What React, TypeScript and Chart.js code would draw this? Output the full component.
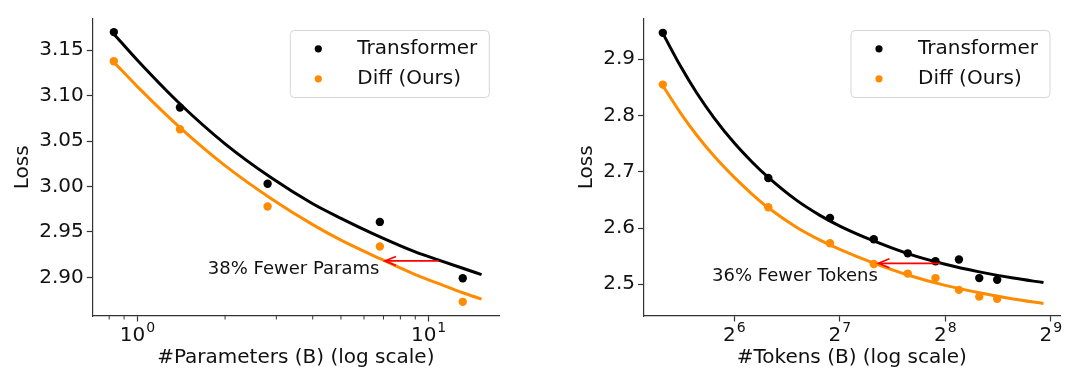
import React, { useEffect, useRef } from "react";
import { Chart, registerables } from "chart.js";

Chart.register(...registerables);

// ---------------- Left panel: model size ----------------
const paramSizes = [0.83, 1.4, 2.8, 6.8, 13.1];
const paramTransformerLoss = [3.17, 3.087, 3.003, 2.961, 2.899];
const paramDiffLoss = [3.138, 3.063, 2.978, 2.934, 2.873];
const paramFitSizes = [0.83, 1.0, 1.41, 2.0, 2.9, 4.0, 5.0, 6.87, 9.0, 10.84, 13.1, 15.2];
const paramFitTransformer = [3.168, 3.139, 3.09, 3.047, 3.009, 2.981, 2.965, 2.944, 2.928, 2.919, 2.91, 2.903];
const paramFitDiff = [3.137, 3.11, 3.064, 3.023, 2.986, 2.958, 2.941, 2.92, 2.903, 2.893, 2.883, 2.876];
const paramMajorTicks = [1, 10];
const paramTickBase = ["10", "10"];
const paramTickExp = ["0", "1"];
const paramMinorTicks = [0.8, 0.9, 2, 3, 4, 5, 6, 7, 8, 9];
const paramLossTicks = [2.9, 2.95, 3.0, 3.05, 3.1, 3.15];

// ---------------- Right panel: training tokens ----------------
const tokenSizes = [40, 80, 120, 160, 200, 240, 280, 320, 360];
const tokenTransformerLoss = [2.947, 2.689, 2.618, 2.58, 2.555, 2.541, 2.544, 2.511, 2.508];
const tokenDiffLoss = [2.855, 2.637, 2.573, 2.536, 2.519, 2.511, 2.49, 2.478, 2.474];
const tokenFitSizes = [40, 45, 50, 56, 64, 72, 80, 96, 112, 128, 160, 200, 256, 320, 400, 488];
const tokenFitTransformer = [2.946, 2.887, 2.84, 2.796, 2.751, 2.717, 2.69, 2.65, 2.623, 2.6035, 2.577, 2.5545, 2.5355, 2.522, 2.511, 2.503];
const tokenFitDiff = [2.853, 2.804, 2.765, 2.728, 2.69, 2.66, 2.636, 2.602, 2.579, 2.562, 2.5375, 2.5165, 2.498, 2.485, 2.474, 2.466];
const tokenMajorTicks = [64, 128, 256, 512];
const tokenTickBase = ["2", "2", "2", "2"];
const tokenTickExp = ["6", "7", "8", "9"];
const tokenLossTicks = [2.5, 2.6, 2.7, 2.8, 2.9];

const seriesNames = ["Transformer", "Diff (Ours)"];
const BLACK = "#000000";
const ORANGE = "#ff8c00";
const AXIS = "#333333";
const TEXT = "#111111";
const FONT = "'DejaVu Sans', 'Liberation Sans', sans-serif";

type Panel = {
  xMin: number; xMax: number; yMin: number; yMax: number;
  x: number[]; t: number[]; d: number[];
  fx: number[]; ft: number[]; fd: number[];
  major: number[]; base: string[]; exp: string[]; minor: number[];
  yTicks: number[]; yDec: number;
  xTitle: string;
  arrow: { from: number; to: number; y: number };
  note: { text: string; x: number; y: number };
  padRight: number; yAxisWidth: number; yTitlePad: number;
};

const leftPanel: Panel = {
  xMin: 0.7194, xMax: 17.49, yMin: 2.8574, yMax: 3.185,
  x: paramSizes, t: paramTransformerLoss, d: paramDiffLoss,
  fx: paramFitSizes, ft: paramFitTransformer, fd: paramFitDiff,
  major: paramMajorTicks, base: paramTickBase, exp: paramTickExp, minor: paramMinorTicks,
  yTicks: paramLossTicks, yDec: 2,
  xTitle: "#Parameters (B) (log scale)",
  arrow: { from: 10.84, to: 7.08, y: 2.918 },
  note: { text: "38% Fewer Params", x: 1.745, y: 2.9031 },
  padRight: 40.7, yAxisWidth: 92.3, yTitlePad: 10.5,
};

const rightPanel: Panel = {
  xMin: 35.23, xMax: 544, yMin: 2.4436, yMax: 2.9725,
  x: tokenSizes, t: tokenTransformerLoss, d: tokenDiffLoss,
  fx: tokenFitSizes, ft: tokenFitTransformer, fd: tokenFitDiff,
  major: tokenMajorTicks, base: tokenTickBase, exp: tokenTickExp, minor: [],
  yTicks: tokenLossTicks, yDec: 1,
  xTitle: "#Tokens (B) (log scale)",
  arrow: { from: 247, to: 165, y: 2.5373 },
  note: { text: "36% Fewer Tokens", x: 55.3, y: 2.5059 },
  padRight: 20, yAxisWidth: 103.5, yTitlePad: 34.7,
};

function overlayPlugin(p: Panel) {
  return {
    id: "overlay",
    afterDraw(chart: any) {
      const ctx = chart.ctx as CanvasRenderingContext2D;
      const xs = chart.scales.x;
      const ys = chart.scales.y;
      const area = chart.chartArea;
      ctx.save();
      // minor ticks
      ctx.strokeStyle = AXIS;
      ctx.lineWidth = 1;
      for (const v of p.minor) {
        const px = xs.getPixelForValue(v);
        ctx.beginPath();
        ctx.moveTo(px, area.bottom);
        ctx.lineTo(px, area.bottom + 3.5);
        ctx.stroke();
      }
      // x tick labels with superscript exponent
      ctx.fillStyle = TEXT;
      ctx.textBaseline = "alphabetic";
      ctx.textAlign = "left";
      p.major.forEach((v, i) => {
        const px = xs.getPixelForValue(v);
        ctx.font = `20px ${FONT}`;
        const wb = ctx.measureText(p.base[i]).width;
        ctx.font = `14px ${FONT}`;
        const we = ctx.measureText(p.exp[i]).width;
        const start = px - (wb + we + 1) / 2;
        ctx.font = `20px ${FONT}`;
        ctx.fillText(p.base[i], start, area.bottom + 24.7);
        ctx.font = `14px ${FONT}`;
        ctx.fillText(p.exp[i], start + wb + 1, area.bottom + 15.5);
      });
      // arrow
      const x1 = xs.getPixelForValue(p.arrow.from);
      const x2 = xs.getPixelForValue(p.arrow.to);
      const ay = ys.getPixelForValue(p.arrow.y);
      ctx.strokeStyle = "#ff0000";
      ctx.lineWidth = 1.7;
      ctx.beginPath();
      ctx.moveTo(x1, ay);
      ctx.lineTo(x2, ay);
      ctx.stroke();
      ctx.beginPath();
      ctx.moveTo(x2 + 11, ay - 4.5);
      ctx.lineTo(x2, ay);
      ctx.lineTo(x2 + 11, ay + 4.5);
      ctx.stroke();
      // annotation text
      ctx.fillStyle = TEXT;
      ctx.font = `18px ${FONT}`;
      ctx.fillText(p.note.text, xs.getPixelForValue(p.note.x), ys.getPixelForValue(p.note.y));
      // legend
      const bw = 199, bh = 67;
      const bx = area.right - 10.5 - bw;
      const by = area.top + 11.5;
      ctx.beginPath();
      (ctx as any).roundRect(bx + 0.5, by + 0.5, bw, bh, 4);
      ctx.fillStyle = "rgba(255,255,255,0.8)";
      ctx.fill();
      ctx.strokeStyle = "rgba(204,204,204,0.8)";
      ctx.lineWidth = 1;
      ctx.stroke();
      const colors = [BLACK, ORANGE];
      seriesNames.forEach((name, i) => {
        ctx.fillStyle = colors[i];
        ctx.beginPath();
        ctx.arc(bx + 28.5, by + 18.8 + i * 30, 3.6, 0, Math.PI * 2);
        ctx.fill();
        ctx.fillStyle = TEXT;
        ctx.font = `20px ${FONT}`;
        ctx.fillText(name, bx + 67.5, by + 24.3 + i * 30);
      });
      ctx.restore();
    },
  };
}

function buildConfig(p: Panel): any {
  const font = { family: FONT, size: 20 };
  const pts = (xs: number[], ys: number[]) => xs.map((x, i) => ({ x, y: ys[i] }));
  return {
    type: "scatter",
    data: {
      datasets: [
        { label: seriesNames[0], data: pts(p.x, p.t), backgroundColor: BLACK, borderWidth: 0, pointRadius: 4.2, order: 0 },
        { label: seriesNames[1], data: pts(p.x, p.d), backgroundColor: ORANGE, borderWidth: 0, pointRadius: 4.2, order: 0 },
        { type: "line", label: "fitT", data: pts(p.fx, p.ft), borderColor: BLACK, borderWidth: 3, pointRadius: 0, cubicInterpolationMode: "monotone", fill: false, order: 1 },
        { type: "line", label: "fitD", data: pts(p.fx, p.fd), borderColor: ORANGE, borderWidth: 3, pointRadius: 0, cubicInterpolationMode: "monotone", fill: false, order: 1 },
      ],
    },
    options: {
      animation: false,
      responsive: false,
      events: [],
      layout: { padding: { top: 18.5, right: p.padRight, bottom: 0, left: 0 } },
      plugins: { legend: { display: false }, tooltip: { enabled: false } },
      scales: {
        x: {
          type: "logarithmic",
          min: p.xMin,
          max: p.xMax,
          afterBuildTicks: (s: any) => { s.ticks = p.major.map((v) => ({ value: v })); },
          afterFit: (s: any) => { s.height = 60; },
          ticks: { callback: () => "", autoSkip: false, maxRotation: 0, padding: 0 },
          grid: { drawOnChartArea: false, drawTicks: true, tickLength: 5.5, tickColor: AXIS, tickWidth: 1.2 },
          border: { display: true, color: AXIS, width: 1.2 },
          title: { display: true, text: p.xTitle, font, color: TEXT, padding: { top: 0, bottom: 6.2 } },
        },
        y: {
          type: "linear",
          min: p.yMin,
          max: p.yMax,
          afterBuildTicks: (s: any) => { s.ticks = p.yTicks.map((v) => ({ value: v })); },
          afterFit: (s: any) => { s.width = p.yAxisWidth; },
          ticks: { callback: (v: any) => Number(v).toFixed(p.yDec), font, color: TEXT, padding: 3, autoSkip: false },
          grid: { drawOnChartArea: false, drawTicks: true, tickLength: 5.5, tickColor: AXIS, tickWidth: 1.2 },
          border: { display: true, color: AXIS, width: 1.2 },
          title: { display: true, text: "Loss", font, color: TEXT, padding: { top: p.yTitlePad, bottom: 0 } },
        },
      },
    },
    plugins: [overlayPlugin(p)],
  };
}

function Panel({ spec, left }: { spec: Panel; left: number }) {
  const ref = useRef<HTMLCanvasElement | null>(null);
  useEffect(() => {
    if (!ref.current) return;
    const chart = new Chart(ref.current, buildConfig(spec));
    return () => chart.destroy();
  }, [spec]);
  return (
    <canvas
      ref={ref}
      width={540}
      height={376}
      style={{ position: "absolute", left, top: 0, width: 540, height: 376, display: "block" }}
    />
  );
}

export default function App() {
  return (
    <div style={{ position: "absolute", left: 0, top: 0, width: 1080, height: 376, background: "#ffffff", overflow: "hidden" }}>
      <Panel spec={leftPanel} left={0} />
      <Panel spec={rightPanel} left={540} />
    </div>
  );
}
